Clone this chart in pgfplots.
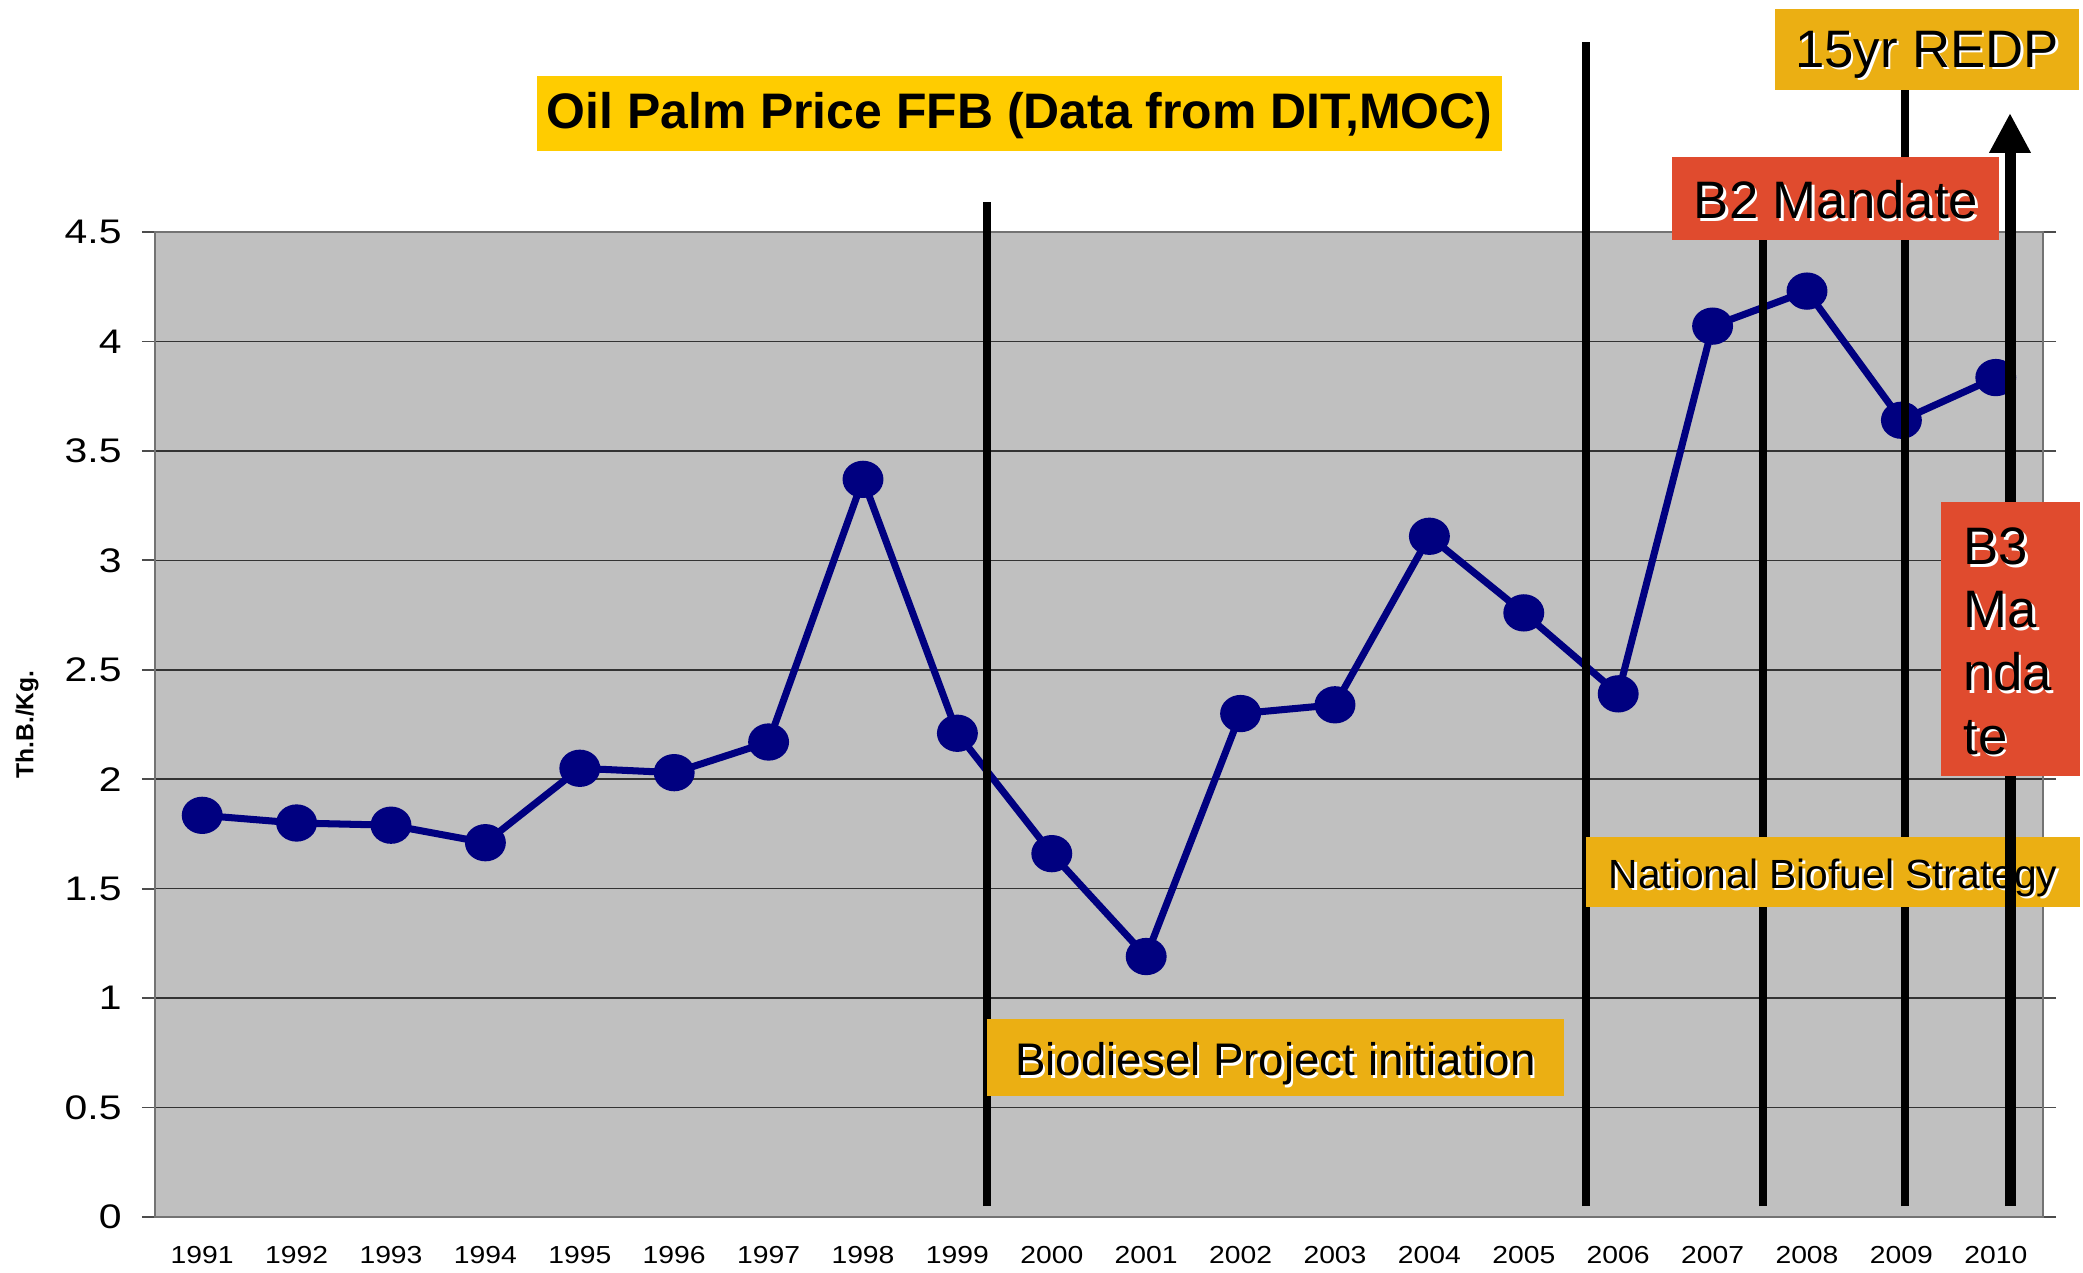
\documentclass[border=0pt]{standalone}
\usepackage{fontspec}
\setmainfont{Liberation Sans}
\newfontfamily\ytickfont[FakeStretch=1.2]{Liberation Sans}
\newfontfamily\xtickfont[FakeStretch=1.15]{Liberation Sans}
\usepackage{pgfplots}
\pgfplotsset{compat=1.18}
\usetikzlibrary{arrows.meta}

\definecolor{plotbg}{HTML}{C0C0C0}
\definecolor{navyline}{HTML}{000080}
\definecolor{titlegold}{HTML}{FFCC00}
\definecolor{boxgold}{HTML}{EBAF13}
\definecolor{boxred}{HTML}{E04B2E}

% text with a small white drop shadow, as in the slide
\newcommand{\sh}[1]{\leavevmode\rlap{\kern0.7pt\raisebox{-0.7pt}{\color{white}#1}}#1}

\begin{document}
\begin{tikzpicture}[x=1cm,y=1cm]
\useasboundingbox (0,0) rectangle (20.83,12.72);

\begin{axis}[
    at={(1.55cm,0.55cm)}, anchor=south west,
    scale only axis,
    width=18.88cm, height=9.85cm,
    xmin=-0.5, xmax=19.5,
    ymin=0, ymax=4.5,
    clip=false,
    axis background/.style={fill=plotbg},
    axis line style={draw=black!55, line width=0.7pt},
    xtick={0,1,2,3,4,5,6,7,8,9,10,11,12,13,14,15,16,17,18,19},
    xticklabels={1991,1992,1993,1994,1995,1996,1997,1998,1999,2000,
                 2001,2002,2003,2004,2005,2006,2007,2008,2009,2010},
    major x tick style={draw=none},
    extra x ticks={-0.5,0.5,1.5,2.5,3.5,4.5,5.5,6.5,7.5,8.5,9.5,
                   10.5,11.5,12.5,13.5,14.5,15.5,16.5,17.5,18.5,19.5},
    extra x tick labels={},
    extra x tick style={major tick length=0.09cm, tick style={draw=black!70, line width=0.5pt}},
    ytick={0,0.5,1,1.5,2,2.5,3,3.5,4,4.5},
    ymajorgrids,
    grid style={black!80, line width=0.45pt},
    tick align=outside,
    major tick length=0.13cm,
    tick style={draw=black!70, line width=0.5pt},
    /pgf/number format/assume math mode=true,
    yticklabel style={font=\ytickfont\fontsize{9.7}{10}\selectfont,
                      /pgf/number format/fixed, xshift=-0.08cm},
    xticklabel style={font=\xtickfont\fontsize{7}{8}\selectfont, yshift=-0.04cm},
    ylabel={Th.B./Kg.},
    ylabel style={font=\bfseries\fontsize{7}{8}\selectfont,
                  at={(axis description cs:-0.0678,0.5)}, anchor=center},
]
\addplot[color=navyline, line width=2pt, mark=*, mark size=4.3pt,
         mark options={xscale=1.12, fill=navyline, draw=navyline}]
coordinates {
    (0, 1.835) (1, 1.80) (2, 1.79) (3, 1.71) (4, 2.05)
    (5, 2.03) (6, 2.17) (7, 3.37) (8, 2.21) (9, 1.66)
    (10, 1.19) (11, 2.30) (12, 2.34) (13, 3.11) (14, 2.76)
    (15, 2.39) (16, 4.07) (17, 4.23) (18, 3.64) (19, 3.835)
};
\end{axis}

% event lines
\draw[line width=0.085cm] (9.87,0.66) -- (9.87,10.70);
\draw[line width=0.085cm] (15.86,0.66) -- (15.86,12.30);
\draw[line width=0.085cm] (17.63,0.66) -- (17.63,10.60);
\draw[line width=0.085cm] (19.05,0.66) -- (19.05,12.00);

% National Biofuel Strategy
\fill[boxgold] (15.86,3.65) rectangle (20.80,4.35);
\node[font=\fontsize{11.6}{13}\selectfont] at (18.33,3.93) {\sh{National Biofuel Strategy}};

% Biodiesel Project initiation
\fill[boxgold] (9.87,1.76) rectangle (15.64,2.53);
\node[font=\fontsize{13}{15}\selectfont] at (12.755,2.07) {\sh{Biodiesel Project initiation}};

% 15-year plan arrow
\draw[line width=0.11cm, -{Triangle[width=0.39cm,length=0.40cm]}] (20.10,0.66) -- (20.10,11.59);

% B3 Mandate
\fill[boxred] (19.41,4.96) rectangle (20.80,7.70);
\begin{scope}[every node/.style={font=\fontsize{15}{18}\selectfont, anchor=base west, inner sep=0pt}]
\node at (19.63,7.07) {\sh{B3}};
\node at (19.63,6.44) {\sh{Ma}};
\node at (19.63,5.81) {\sh{nda}};
\node at (19.63,5.18) {\sh{te}};
\end{scope}

% B2 Mandate
\fill[boxred] (16.72,10.32) rectangle (19.99,11.15);
\node[font=\fontsize{15}{18}\selectfont] at (18.36,10.71) {\sh{B2 Mandate}};

% 15yr REDP
\fill[boxgold] (17.75,11.82) rectangle (20.79,12.63);
\node[font=\fontsize{15}{18}\selectfont] at (19.27,12.16) {\sh{15yr REDP}};

% title
\fill[titlegold] (5.37,11.21) rectangle (15.02,11.96);
\node[font=\bfseries\fontsize{14.2}{17}\selectfont] at (10.195,11.56) {Oil Palm Price FFB (Data from DIT,MOC)};
\end{tikzpicture}
\end{document}
